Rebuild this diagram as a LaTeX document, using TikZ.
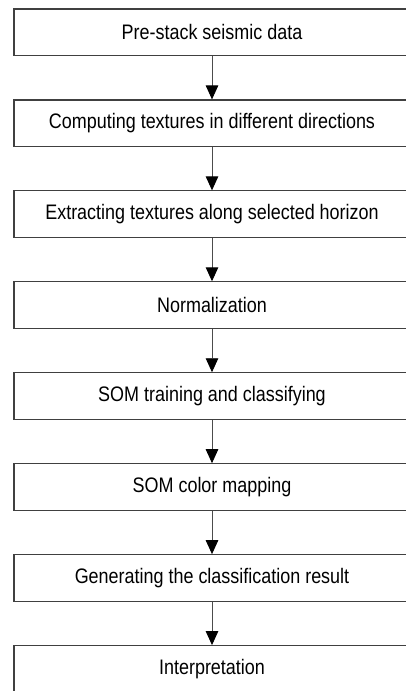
\documentclass[tikz,border=0pt]{standalone}
\usepackage{fontspec}
\setmainfont{Liberation Sans}[FakeStretch=0.855]
\usetikzlibrary{arrows.meta}
\begin{document}
\begin{tikzpicture}[x=1pt,y=-1pt,
  stepbox/.style={draw=black!75, line width=1.1pt, fill=white,
    minimum width=396pt, minimum height=46.5pt, inner sep=0pt,
    font=\fontsize{21}{24}\selectfont},
  flow/.style={draw=black!70, line width=0.9pt,
    -{Triangle[width=12.5pt,length=14pt,color=black]}}]
\useasboundingbox (0,0) rectangle (406,691);
\node[stepbox] (n1) at (212,32.25)  {Pre-stack seismic data};
\node[stepbox] (n2) at (212,123.2)  {Computing textures in different directions};
\node[stepbox] (n3) at (212,214.15) {Extracting textures along selected horizon};
\node[stepbox] (n4) at (212,305.1)  {Normalization};
\node[stepbox] (n5) at (212,396.05) {SOM training and classifying};
\node[stepbox] (n6) at (212,487)    {SOM color mapping};
\node[stepbox] (n7) at (212,577.95) {Generating the classification result};
\node[stepbox] (n8) at (212,668.9)  {Interpretation};
\foreach \a/\b in {n1/n2,n2/n3,n3/n4,n4/n5,n5/n6,n6/n7,n7/n8}
  \draw[flow] (\a) -- (\b);
\end{tikzpicture}
\end{document}
